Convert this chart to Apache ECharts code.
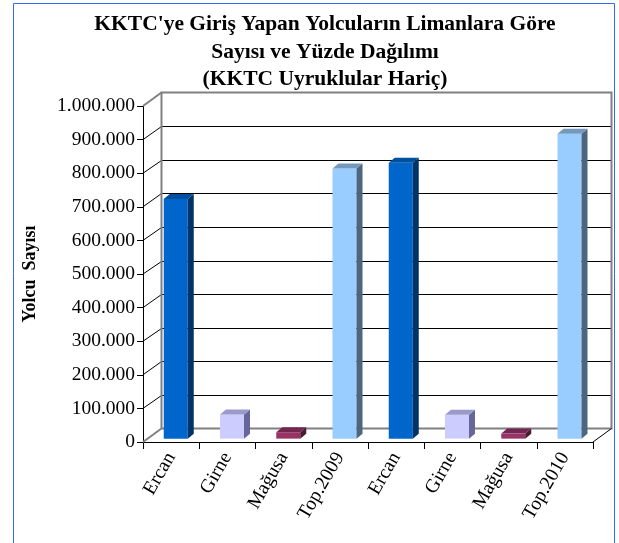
<!DOCTYPE html>
<html>
<head>
<meta charset="utf-8">
<script src="https://cdn.jsdelivr.net/npm/echarts@6/dist/echarts.min.js"></script>
<style>
  html, body { margin: 0; padding: 0; background: #fff; }
  #chart { width: 619px; height: 543px; }
</style>
</head>
<body>
<div id="chart"></div>
<script>
// data
const categories = ['Ercan', 'Girne', 'Mağusa', 'Top.2009', 'Ercan', 'Girne', 'Mağusa', 'Top.2010'];
const values = [713000, 72000, 19000, 804000, 821000, 71000, 15000, 907000];
const yTicks = [0, 100000, 200000, 300000, 400000, 500000, 600000, 700000, 800000, 900000, 1000000];

// face / side / top colours per port
const palette = {
  'Ercan': ['#0066CC', '#003366', '#0050A0'],
  'Girne': ['#CCCCFF', '#666699', '#9999CC'],
  'Mağusa': ['#993366', '#4D1A33', '#732650'],
  'Top': ['#99CCFF', '#4D6680', '#7399BF']
};

// 3d depth of the walls and of the bars
const DX = 18.5, DY = -13.5;
const BAR_OFF = 0.25, BAR_DX = 6, BAR_DY = -5, BAR_W = 24;

const fmt = v => String(v).replace(/\B(?=(\d{3})+(?!\d))/g, '.');
const crisp = v => Math.round(v) + 0.5;

const chart = echarts.init(document.getElementById('chart'));

function renderWalls(params, api) {
  const cs = params.coordSys;
  const x0 = cs.x, x1 = cs.x + cs.width;
  const yBase = api.coord([0, 0])[1];
  const yTop = api.coord([0, 1000000])[1];
  const gray = { stroke: '#808080', lineWidth: 2 };
  const children = [];
  // back wall gridlines + diagonal ticks on the side wall
  yTicks.forEach(t => {
    if (t === 0 || t === 1000000) return;
    const y = api.coord([0, t])[1];
    const yb = crisp(y + DY);
    children.push({ type: 'line', shape: { x1: x0 + DX, y1: yb, x2: x1 + DX, y2: yb }, style: { stroke: '#000', lineWidth: 1 } });
    children.push({ type: 'line', shape: { x1: x0, y1: y, x2: x0 + DX, y2: yb }, style: { stroke: '#000', lineWidth: 1 } });
  });
  // back wall frame
  children.push({ type: 'polyline', shape: { points: [[x0 + DX, yBase + DY], [x0 + DX, yTop + DY], [x1 + DX, yTop + DY], [x1 + DX, yBase + DY], [x0 + DX, yBase + DY]] }, style: Object.assign({ fill: 'none' }, gray) });
  // side wall top and floor left edge
  children.push({ type: 'line', shape: { x1: x0, y1: yTop, x2: x0 + DX, y2: yTop + DY }, style: gray });
  children.push({ type: 'line', shape: { x1: x0, y1: yBase, x2: x0 + DX, y2: yBase + DY }, style: gray });
  // floor right edge
  children.push({ type: 'line', shape: { x1: x1, y1: yBase, x2: x1 + DX, y2: yBase + DY }, style: { stroke: '#000', lineWidth: 1 } });
  return { type: 'group', children: children };
}

function renderBar(params, api) {
  const i = api.value(0);
  const v = api.value(1);
  const base = api.coord([i, 0]);
  const top = api.coord([i, v]);
  const ox = BAR_OFF * DX, oy = BAR_OFF * DY;
  const xl = base[0] - BAR_W / 2 + ox, xr = base[0] + BAR_W / 2 + ox;
  const yb = base[1] + oy, yt = top[1] + oy;
  const name = categories[i].indexOf('Top') === 0 ? 'Top' : categories[i];
  const c = palette[name];
  return {
    type: 'group',
    children: [
      { type: 'rect', shape: { x: xl, y: yt, width: xr - xl, height: yb - yt }, style: { fill: c[0] } },
      { type: 'polygon', shape: { points: [[xr, yt], [xr + BAR_DX, yt + BAR_DY], [xr + BAR_DX, yb + BAR_DY], [xr, yb]] }, style: { fill: c[1] } },
      { type: 'polygon', shape: { points: [[xl, yt], [xl + BAR_DX, yt + BAR_DY], [xr + BAR_DX, yt + BAR_DY], [xr, yt]] }, style: { fill: c[2] } }
    ]
  };
}

const option = {
  backgroundColor: '#fff',
  animation: false,
  title: {
    text: "KKTC'ye Giriş Yapan Yolcuların Limanlara Göre\nSayısı ve Yüzde Dağılımı\n(KKTC Uyruklular Hariç)",
    left: 320,
    textAlign: 'center',
    top: 6,
    textStyle: { fontFamily: 'Liberation Serif', fontWeight: 'bold', fontSize: 21.5, lineHeight: 27.5, color: '#000' }
  },
  graphic: [
    { type: 'rect', shape: { x: 13.5, y: 3.5, width: 601, height: 560 }, style: { fill: 'none', stroke: '#3366FF', lineWidth: 1 }, silent: true }
  ],
  grid: { left: 143, top: 106, width: 450, height: 336 },
  xAxis: {
    type: 'category',
    data: categories,
    boundaryGap: true,
    axisLine: { lineStyle: { color: '#000', width: 1 } },
    axisTick: { show: true, length: 7, lineStyle: { color: '#000' } },
    axisLabel: { rotate: 60, margin: 12, color: '#000', fontFamily: 'Liberation Serif', fontSize: 19.5, interval: 0 }
  },
  yAxis: {
    type: 'value',
    min: 0,
    max: 1000000,
    interval: 100000,
    name: 'Yolcu  Sayısı',
    nameLocation: 'middle',
    nameGap: 104,
    nameTextStyle: { fontFamily: 'Liberation Serif', fontWeight: 'bold', fontSize: 18, color: '#000' },
    axisLine: { show: true, lineStyle: { color: '#000', width: 1 } },
    axisTick: { show: true, length: 6, lineStyle: { color: '#000' } },
    splitLine: { show: false },
    axisLabel: { formatter: fmt, margin: 8, color: '#000', fontFamily: 'Liberation Serif', fontSize: 19.5 }
  },
  series: [
    { type: 'custom', renderItem: renderWalls, data: [[0, 0]], z: 1, silent: true },
    { type: 'custom', renderItem: renderBar, data: values.map((v, i) => [i, v]), z: 2 }
  ]
};
chart.setOption(option);
</script>
</body>
</html>
